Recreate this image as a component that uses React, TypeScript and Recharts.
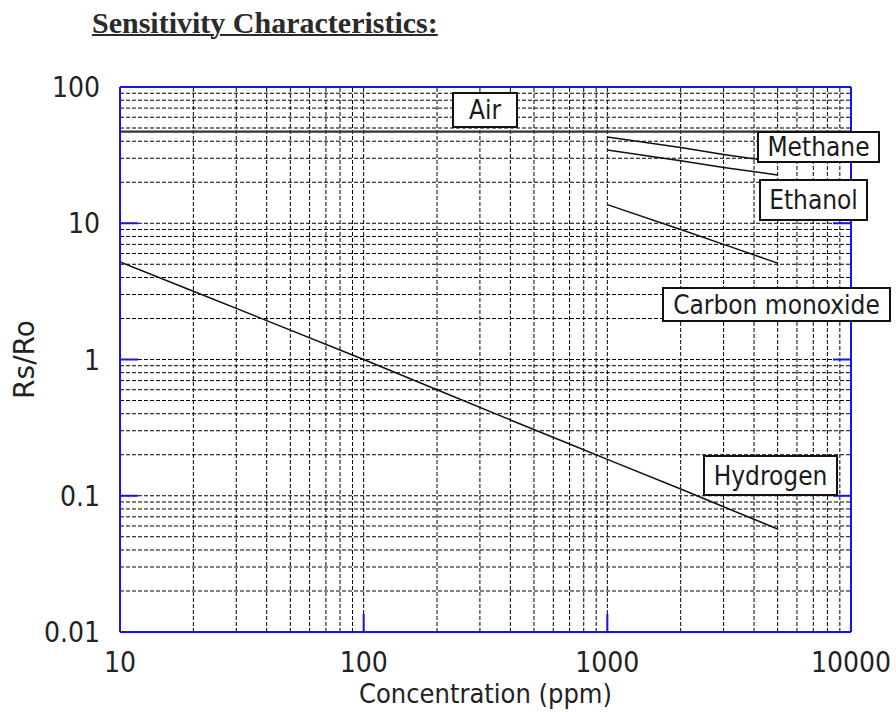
import React from "react";
import { Label, Line, LineChart, ReferenceLine, XAxis, YAxis } from "recharts";

// concentration (ppm) and Rs/Ro
const airPpm = [10, 10000];
const airRatio = [47, 47];
const methanePpm = [1000, 2000, 3000, 5000];
const methaneRatio = [43, 36, 32, 28];
const ethanolPpm = [1000, 2000, 3000, 5000];
const ethanolRatio = [34.5, 28.7, 25.7, 22.6];
const coPpm = [1000, 2000, 3000, 5000];
const coRatio = [13.7, 9, 7, 5.1];
const hydrogenPpm = [10, 20, 40, 100, 200, 400, 700, 1000, 2000, 3000, 5000];
const hydrogenRatio = [5.2, 3.17, 1.93, 1, 0.6, 0.36, 0.24, 0.185, 0.112, 0.083, 0.057];

const xTicks = [10, 100, 1000, 10000];
const yTicks = [0.01, 0.1, 1, 10, 100];
const xTickLabels = ["10", "100", "1000", "10000"];
const yTickLabels = ["0.01", "0.1", "1", "10", "100"];

// minor grid: 1..9 of each decade, inside the frame
const multiples = [1, 2, 3, 4, 5, 6, 7, 8, 9];
const xGrid = [10, 100, 1000].flatMap((d) => multiples.map((m) => m * d)).filter((v) => v > 10);
const yGrid = [0.01, 0.1, 1, 10].flatMap((d) => multiples.map((m) => +(m * d).toPrecision(3))).filter((v) => v > 0.01);

const toPoints = (xs: number[], ys: number[]) => xs.map((ppm, i) => ({ ppm, ratio: ys[i] }));

const BLUE = "#1414ee";
const FONT = "'DejaVu Sans Condensed', 'DejaVu Sans', sans-serif";

const isEnd = (v: number, ticks: number[]) => v === ticks[0] || v === ticks[ticks.length - 1];

const BottomTick = ({ x, y, payload }: any) => (
  <g>
    {!isEnd(payload.value, xTicks) && (
      <line x1={x} x2={x} y1={y} y2={y - 18} stroke={BLUE} strokeWidth={2} />
    )}
    <text x={x} y={y + 30} dy="0.36em" textAnchor="middle" fontSize={28} fill="#222" fontFamily={FONT}>
      {xTickLabels[xTicks.indexOf(payload.value)]}
    </text>
  </g>
);

const TopTick = ({ x, y, payload }: any) =>
  isEnd(payload.value, xTicks) ? <g /> : <line x1={x} x2={x} y1={y} y2={y + 18} stroke={BLUE} strokeWidth={2} />;

const LeftTick = ({ x, y, payload }: any) => (
  <g>
    {!isEnd(payload.value, yTicks) && (
      <line x1={x} x2={x + 18} y1={y} y2={y} stroke={BLUE} strokeWidth={2} />
    )}
    <text x={x - 20} y={y} dy="0.36em" textAnchor="end" fontSize={28} fill="#222" fontFamily={FONT}>
      {yTickLabels[yTicks.indexOf(payload.value)]}
    </text>
  </g>
);

const RightTick = ({ x, y, payload }: any) =>
  isEnd(payload.value, yTicks) ? <g /> : <line x1={x} x2={x - 18} y1={y} y2={y} stroke={BLUE} strokeWidth={2} />;

const boxStyle: React.CSSProperties = {
  position: "absolute",
  boxSizing: "border-box",
  border: "2px solid #111",
  background: "#fff",
  display: "flex",
  alignItems: "center",
  justifyContent: "center",
  fontFamily: FONT,
  fontSize: 26,
  color: "#1a1a1a",
  whiteSpace: "nowrap",
};

const NoteBox = ({ text, left, top, width, height }: { text: string; left: number; top: number; width: number; height: number }) => (
  <div style={{ ...boxStyle, left, top, width, height }}>{text}</div>
);

export default function App() {
  return (
    <div style={{ position: "absolute", left: 0, top: 0, width: 896, height: 712, background: "#fff" }}>
      <div
        style={{
          position: "absolute",
          left: 92,
          top: 8,
          fontFamily: "'Liberation Serif', serif",
          fontWeight: "bold",
          fontSize: 30,
          lineHeight: "30px",
          color: "#2a2a2a",
          textDecoration: "underline",
          textDecorationThickness: 2,
        }}
      >
        Sensitivity Characteristics:
      </div>
      <LineChart width={896} height={712} margin={{ top: 86, right: 44, bottom: 4, left: 10 }}>
        <XAxis
          xAxisId="b"
          dataKey="ppm"
          type="number"
          scale="log"
          domain={[10, 10000]}
          ticks={xTicks}
          allowDataOverflow
          height={76}
          tickSize={0}
          tickMargin={0}
          tick={<BottomTick />}
          axisLine={{ stroke: BLUE, strokeWidth: 2 }}
          interval={0}
        >
          <Label value="Concentration (ppm)" position="insideBottom" offset={5} fontSize={27} fill="#222" fontFamily={FONT} />
        </XAxis>
        <XAxis
          xAxisId="t"
          orientation="top"
          type="number"
          scale="log"
          domain={[10, 10000]}
          ticks={xTicks}
          allowDataOverflow
          height={1}
          tickSize={0}
          tickMargin={0}
          tick={<TopTick />}
          axisLine={{ stroke: BLUE, strokeWidth: 2 }}
          interval={0}
        />
        <YAxis
          yAxisId="l"
          type="number"
          scale="log"
          domain={[0.01, 100]}
          ticks={yTicks}
          allowDataOverflow
          width={110}
          tickSize={0}
          tickMargin={0}
          tick={<LeftTick />}
          axisLine={{ stroke: BLUE, strokeWidth: 2 }}
          interval={0}
        >
          <Label
            value="Rs/Ro"
            angle={-90}
            position="insideLeft"
            offset={14}
            fontSize={28}
            fill="#222"
            fontFamily="'DejaVu Sans', sans-serif"
            style={{ textAnchor: "middle" }}
          />
        </YAxis>
        <YAxis
          yAxisId="r"
          orientation="right"
          type="number"
          scale="log"
          domain={[0.01, 100]}
          ticks={yTicks}
          allowDataOverflow
          width={1}
          tickSize={0}
          tickMargin={0}
          tick={<RightTick />}
          axisLine={{ stroke: BLUE, strokeWidth: 2 }}
          interval={0}
        />
        {xGrid.map((v) => (
          <ReferenceLine key={"gx" + v} x={v} xAxisId="b" yAxisId="l" stroke="#000" strokeWidth={1} strokeDasharray="4 2" />
        ))}
        {yGrid.map((v) => (
          <ReferenceLine key={"gy" + v} y={v} xAxisId="b" yAxisId="l" stroke="#000" strokeWidth={1} strokeDasharray="4 2" />
        ))}
        <Line data={toPoints(airPpm, airRatio)} dataKey="ratio" xAxisId="b" yAxisId="l" type="linear" stroke="#333" strokeWidth={2.2} dot={false} isAnimationActive={false} />
        <Line data={toPoints(methanePpm, methaneRatio)} dataKey="ratio" xAxisId="b" yAxisId="l" type="linear" stroke="#111" strokeWidth={1.5} dot={false} isAnimationActive={false} />
        <Line data={toPoints(ethanolPpm, ethanolRatio)} dataKey="ratio" xAxisId="b" yAxisId="l" type="linear" stroke="#111" strokeWidth={1.5} dot={false} isAnimationActive={false} />
        <Line data={toPoints(coPpm, coRatio)} dataKey="ratio" xAxisId="b" yAxisId="l" type="linear" stroke="#111" strokeWidth={1.5} dot={false} isAnimationActive={false} />
        <Line data={toPoints(hydrogenPpm, hydrogenRatio)} dataKey="ratio" xAxisId="b" yAxisId="l" type="linear" stroke="#111" strokeWidth={1.5} dot={false} isAnimationActive={false} />
      </LineChart>
      <NoteBox text="Air" left={452} top={92} width={66} height={36} />
      <NoteBox text="Methane" left={757} top={131} width={123} height={32} />
      <NoteBox text="Ethanol" left={759} top={179} width={109} height={42} />
      <NoteBox text="Carbon monoxide" left={662} top={287} width={229} height={35} />
      <NoteBox text="Hydrogen" left={703} top={455} width={135} height={41} />
    </div>
  );
}
